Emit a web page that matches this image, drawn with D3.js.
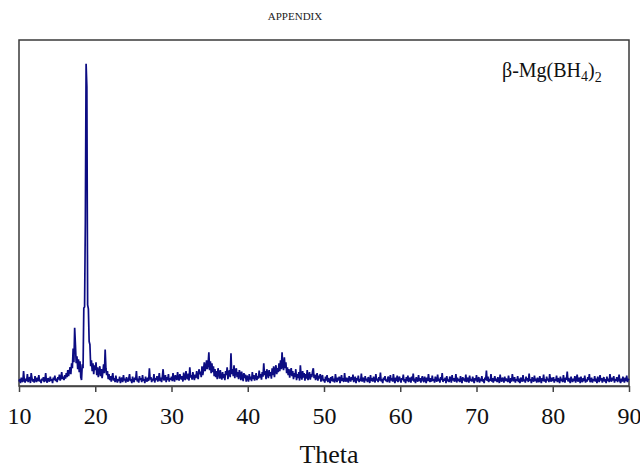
<!DOCTYPE html>
<html lang="en">
	<head>
		<meta charset="utf-8">
		<title>XRD pattern of beta-Mg(BH4)2</title>
		<script type="text/javascript" src="https://cdn.jsdelivr.net/npm/d3@7"></script>
		<style type="text/css">
			body { margin: 0; background: #fff; }
			.Axis path,
			.Axis line {
				stroke: #444;
				stroke-width: 1.5;
			}
			.Axis text {
				font-family: "Liberation Serif", "Times New Roman", serif;
				font-size: 24px;
				fill: #111;
			}
		</style>
	</head>
	<body>
		<script type="text/javascript">

			//Scan settings: start angle and step (degrees)
			var startAngle = 10;
			var stepAngle = 0.1;

			//Counts, one array per 10 degrees
			var counts10 = [45,70,30,85,55,40,150,60,35,75, 50,120,40,65,90,30,130,80,45,70,
				35,100,60,40,85,50,110,45,65,30, 75,55,90,40,60,130,50,35,80,60,
				45,95,55,70,30,85,60,105,50,75, 40,90,65,115,55,80,140,70,95,60,
				110,75,130,90,160,100,145,190,120,230, 180,380,240,590,420,230,300,170,270,140,
				250,90,60,220,180,790,800,1650,3260,3030, 820,780,450,420,200,260,150,230,120,210];
			var counts20 = [160,240,110,190,90,150,200,100,170,80, 140,220,130,370,180,110,150,70,120,60,
				100,45,90,130,55,80,40,105,60,35, 70,50,95,30,65,85,40,110,55,75,
				35,90,60,45,80,120,50,70,30,95, 55,40,85,65,150,45,75,35,100,60,
				80,40,110,55,70,30,95,60,45,85, 50,180,65,90,40,75,55,120,35,80,
				60,100,45,70,130,50,85,40,95,170, 55,75,110,40,90,60,120,45,80,65];
			var counts30 = [95,50,130,70,45,110,85,60,140,75, 55,120,90,65,100,45,135,80,60,150,
				90,70,125,55,190,85,110,65,140,95, 60,115,80,150,100,70,170,120,145,90,
				200,110,160,240,150,190,260,170,220,340, 160,250,130,230,140,200,100,170,90,150,
				70,180,130,75,160,90,65,140,80,120, 60,150,110,190,70,130,160,90,330,120,
				170,100,210,80,150,180,90,140,70,160, 120,60,145,90,50,130,80,115,45,105];
			var counts40 = [80,45,120,65,95,50,140,70,110,55, 90,130,60,100,75,155,85,120,65,140,
				95,230,110,150,70,170,125,80,160,100, 140,75,180,110,200,90,160,210,120,180,
				140,230,150,260,170,340,200,160,290,180, 240,130,190,110,170,85,140,180,100,150,
				70,130,90,170,60,120,80,140,55,210, 100,65,150,85,130,55,120,75,160,60,
				100,140,65,120,90,150,180,80,115,60, 95,130,55,105,75,120,45,90,110,50];
			var counts50 = [70,35,95,55,110,40,80,60,30,90, 50,100,45,75,35,120,65,40,85,55,
				95,30,70,110,50,80,40,130,60,45, 85,55,35,100,70,45,90,60,115,40,
				65,95,30,80,55,105,40,70,50,125, 45,85,60,35,100,55,75,40,90,65,
				30,110,50,80,45,95,60,35,120,55, 75,40,90,55,135,45,70,30,85,60,
				100,50,65,40,95,75,35,110,55,80, 45,120,60,30,85,50,105,40,70,95];
			var counts60 = [55,35,80,60,115,45,70,30,90,50, 105,40,65,85,35,95,55,125,45,75,
				30,90,60,45,110,50,80,35,70,100, 55,40,95,65,30,85,50,120,60,40,
				80,45,105,55,70,35,95,60,45,115, 50,75,35,90,60,130,40,70,55,85,
				30,100,50,65,40,95,75,35,110,55, 80,45,60,120,35,85,50,70,40,100,
				60,30,90,55,75,45,115,40,65,85, 35,105,50,70,45,95,60,30,80,55];
			var counts70 = [110,40,65,90,35,75,50,100,45,70, 30,85,60,155,50,95,40,70,55,120,
				45,80,35,65,100,50,75,40,90,60, 30,115,55,45,85,65,35,95,50,75,
				60,40,105,55,30,80,45,120,65,50, 90,35,70,55,100,40,75,30,85,60,
				45,110,50,65,35,95,55,80,40,125, 55,70,30,90,60,45,105,50,75,35,
				85,55,40,100,65,30,80,50,115,45, 70,35,95,55,75,40,120,60,45,85];
			var counts80 = [50,90,35,70,55,105,40,80,60,30, 95,50,75,40,110,55,35,85,65,145,
				45,80,55,30,95,60,40,75,50,100, 35,70,115,45,60,85,30,95,55,40,
				80,50,105,35,65,45,90,60,120,40, 55,85,35,70,50,100,45,75,30,95,
				60,40,110,55,80,35,65,90,45,70, 30,95,50,75,40,120,60,45,85,55,
				100,35,70,55,90,40,65,115,50,30, 75,45,95,60,35,85,50,105,40,70,
				60];

			var xTicks = [10, 20, 30, 40, 50, 60, 70, 80, 90];
			var xLabel = "Theta";
			var sampleName = "β-Mg(BH";

			var counts = [].concat(counts10, counts20, counts30, counts40,
				counts50, counts60, counts70, counts80);
			var dataset = counts.map(function(c, i) {
				return [startAngle + i * stepAngle, c];
			});

			//Width and height
			var w = 640;
			var h = 470;
			var plotLeft = 19, plotRight = 629, plotTop = 40, plotBottom = 386;

			//Create scale functions
			var xScale = d3.scaleLinear()
								.domain([10, 90])
								.range([plotLeft, plotRight]);

			var yScale = d3.scaleLinear()
								.domain([0, 3500])
								.range([plotBottom, plotTop]);

			var xAxis = d3.axisBottom()
							.scale(xScale)
							.tickValues(xTicks)
							.tickSize(6)
							.tickSizeOuter(0)
							.tickPadding(15)
							.tickFormat(d3.format("d"));

			//Create SVG element
			var svg = d3.select("body")
						.append("svg")
						.attr("width", w)
						.attr("height", h);

			svg.append("text")
				.attr("x", 295)
				.attr("y", 20)
				.attr("text-anchor", "middle")
				.style("font-family", "'Liberation Serif', serif")
				.style("font-size", "11px")
				.style("fill", "#222")
				.text("APPENDIX");

			//Plot frame
			svg.append("rect")
				.attr("x", plotLeft)
				.attr("y", plotTop)
				.attr("width", plotRight - plotLeft)
				.attr("height", plotBottom - plotTop)
				.attr("fill", "none")
				.attr("stroke", "#3a3a3a")
				.attr("stroke-width", 1.5);

			var line = d3.line()
				.x(function(d) { return xScale(d[0]); })
				.y(function(d) { return yScale(d[1]); });

			svg.append("path")
				.datum(dataset)
				.attr("d", line)
				.attr("fill", "none")
				.attr("stroke", "#0c0c82")
				.attr("stroke-width", 1.7)
				.attr("stroke-linejoin", "bevel");

			svg.append("g")
				.classed("Axis", true)
				.attr("transform", "translate(0," + plotBottom + ")")
				.call(xAxis);

			svg.append("text")
				.attr("x", 329)
				.attr("y", 463)
				.attr("text-anchor", "middle")
				.style("font-family", "'Liberation Serif', serif")
				.style("font-size", "26px")
				.style("fill", "#111")
				.text(xLabel);

			//Sample label with subscripts
			var label = svg.append("text")
				.attr("x", 502)
				.attr("y", 77)
				.style("font-family", "'Liberation Serif', serif")
				.style("font-size", "20px")
				.style("fill", "#111");
			label.append("tspan").text(sampleName);
			label.append("tspan").attr("dy", 4).style("font-size", "14px").text("4");
			label.append("tspan").attr("dy", -4).text(")");
			label.append("tspan").attr("dy", 5).style("font-size", "14px").text("2");

		</script>
	</body>
</html>
